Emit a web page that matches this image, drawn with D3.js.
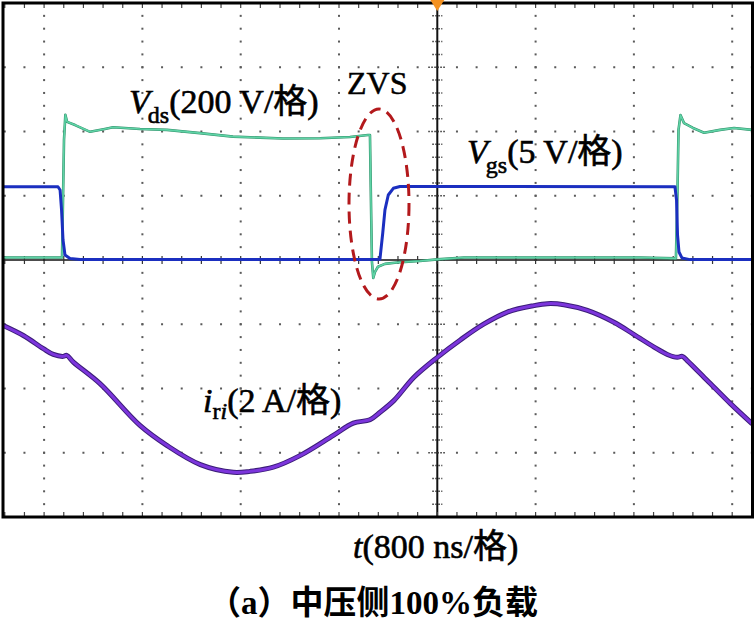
<!DOCTYPE html>
<html>
<head>
<meta charset="utf-8">
<script src="https://cdn.jsdelivr.net/npm/d3@7"></script>
<style>
  html, body { margin: 0; padding: 0; background: #fff; }
  svg { display: block; }
</style>
</head>
<body>
<svg id="chart" width="754" height="622"></svg>
<script>
// ---------------- data ----------------
// time in ns (0 = trigger / centre graticule line), 800 ns per division
const vdsTime = [-3534, -3054, -3038, -3027, -3013, -2948, -2826, -2706, -2639, -2419, -2200, -1931, -1663, -1443, -1256, -955, -711, -564, -548, -540, -532, -521, -507, -483, -426, -328, -141, 0, 217, 1649, 1942, 1955, 1963, 1979, 2008, 2081, 2171, 2301, 2415, 2561];
const vdsValue = [8, 8, 374, 452, 430, 420, 399, 408, 413, 408, 405, 395, 384, 381, 378, 379, 383, 389, 389, 187, -6, -56, -37, -21, -12, -8, -3, 2, 8, 8, 5, 218, 405, 451, 426, 411, 396, 405, 411, 405]; // V, 200 V/div

const vgsTime = [-3534, -3087, -3070, -3058, -3046, -3030, -2989, -2908, -548, -467, -444, -426, -399, -358, -304, 1934, 1947, 1955, 1967, 1991, 2056, 2561];
const vgsValue = [5.7, 5.7, 5.45, 3.9, 1.56, 0.39, 0.12, 0.03, 0.03, 0.05, 2.1, 3.9, 5.06, 5.58, 5.72, 5.7, 4.67, 1.95, 0.62, 0.16, 0.03, 0.03]; // V, 5 V/div

const iriTime = [-3532, -3369, -3206, -3125, -3044, -3016, -2962, -2745, -2420, -2202, -1928, -1660, -1524, -1335, -1118, -846, -684, -548, -466, -352, -190, 0, 190, 380, 570, 787, 895, 1031, 1221, 1438, 1601, 1764, 1872, 1953, 1994, 2034, 2197, 2388, 2563];
const iriValue = [1.96, 1.65, 1.24, 1.06, 1.00, 1.03, 0.82, 0.15, -1.15, -1.77, -2.37, -2.61, -2.58, -2.45, -2.09, -1.46, -1.08, -0.97, -0.74, -0.37, 0.35, 0.97, 1.52, 2.01, 2.38, 2.58, 2.64, 2.61, 2.43, 2.06, 1.68, 1.29, 1.06, 0.97, 1.00, 0.87, 0.25, -0.48, -1.10]; // A, 2 A/div

// channel scale (units per division) and offset (divisions)
const channelScale = { vds: 200, vgs: 5, iri: 2 };
const channelOffset = { vds: 0, vgs: 0, iri: -2 };

// labels
const labelVds = ["V", "ds", "(200 V/格)"];
const labelVgs = ["V", "gs", "(5 V/格)"];
const labelIri = ["i", "r", "i", "(2 A/格)"];
const labelZvs = "ZVS";
const labelTime = ["t", "(800 ns/格)"];
const caption = "（a）中压侧100%负载";

// ---------------- layout ----------------
const svg = d3.select("#chart");
const pLeft = 3, pRight = 752.5, pTop = 3, pBottom = 517;
const divPx = 98.3, centreX = 437.3;

const x = d3.scaleLinear()
  .domain([(pLeft - centreX) / divPx * 800, (pRight - centreX) / divPx * 800])
  .range([pLeft, pRight]);
const y = d3.scaleLinear().domain([-4, 4]).range([pBottom, pTop]);

const g = svg.append("g");

// graticule dots
const majorX = d3.range(-4, 4).map(k => k * 800).filter(t => t !== 0 && t >= x.domain()[0] && t <= x.domain()[1]);
const minorX = d3.range(-25, 20).map(k => k * 160).filter(t => t > x.domain()[0] && t < x.domain()[1]);
const majorY = [-3, -2, -1, 1, 2, 3];
const minorIdx = d3.range(-19, 20);
const minorY = minorIdx.map(k => k / 5);

const dots = [];
majorX.forEach(t => minorY.forEach(v => dots.push([x(t), y(v)])));
majorY.forEach(v => minorX.forEach(t => dots.push([x(t), y(v)])));
g.append("g").selectAll("rect").data(dots).join("rect")
  .attr("x", d => d[0] - 1).attr("y", d => d[1] - 1)
  .attr("width", 2).attr("height", 2).attr("fill", "#5a5a5a");

// centre axes with ticks
g.append("line").attr("x1", x(0)).attr("x2", x(0)).attr("y1", pTop).attr("y2", pBottom)
  .attr("stroke", "#111").attr("stroke-width", 2);
g.append("line").attr("x1", pLeft).attr("x2", pRight).attr("y1", y(0)).attr("y2", y(0))
  .attr("stroke", "#111").attr("stroke-width", 1.5);
g.append("g").selectAll("line").data(minorIdx).join("line")
  .attr("x1", k => x(0) - (k % 5 === 0 ? 9 : 5))
  .attr("x2", k => x(0) + (k % 5 === 0 ? 9 : 5))
  .attr("y1", k => y(k / 5)).attr("y2", k => y(k / 5))
  .attr("stroke", "#333").attr("stroke-width", 1.5).attr("stroke-dasharray", "1.5,1.5");
g.append("g").selectAll("line").data(minorX).join("line")
  .attr("x1", d => x(d)).attr("x2", d => x(d))
  .attr("y1", y(0) - 4).attr("y2", y(0) + 4)
  .attr("stroke", "#333").attr("stroke-width", 1.2);
// border ticks (top / bottom)
g.append("g").selectAll("line").data(minorX).join("line")
  .attr("x1", d => x(d)).attr("x2", d => x(d))
  .attr("y1", pTop).attr("y2", pTop + 5)
  .attr("stroke", "#444").attr("stroke-width", 1.2);
g.append("g").selectAll("line").data(minorX).join("line")
  .attr("x1", d => x(d)).attr("x2", d => x(d))
  .attr("y1", pBottom - 5).attr("y2", pBottom)
  .attr("stroke", "#444").attr("stroke-width", 1.2);

// traces
function series(times, values, ch) {
  return times.map((t, i) => [t, values[i] / channelScale[ch] + channelOffset[ch]]);
}
const lineLin = d3.line().x(d => x(d[0])).y(d => y(d[1]));
const lineSmooth = d3.line().x(d => x(d[0])).y(d => y(d[1])).curve(d3.curveCatmullRom.alpha(0.5));

const iriData = series(iriTime, iriValue, "iri");
g.append("path").attr("d", lineSmooth(iriData)).attr("fill", "none")
  .attr("stroke", "#3b1d78").attr("stroke-width", 5).attr("stroke-linejoin", "round");
g.append("path").attr("d", lineSmooth(iriData)).attr("fill", "none")
  .attr("stroke", "#7c35dc").attr("stroke-width", 3).attr("stroke-linejoin", "round");

const vdsData = series(vdsTime, vdsValue, "vds");
g.append("path").attr("d", lineLin(vdsData)).attr("fill", "none")
  .attr("stroke", "#2f8f69").attr("stroke-width", 2.6).attr("stroke-linejoin", "round");
g.append("path").attr("d", lineLin(vdsData)).attr("fill", "none")
  .attr("stroke", "#5fd3a6").attr("stroke-width", 1.6).attr("stroke-linejoin", "round");

const vgsData = series(vgsTime, vgsValue, "vgs");
g.append("path").attr("d", lineLin(vgsData)).attr("fill", "none")
  .attr("stroke", "#1b2fc0").attr("stroke-width", 3).attr("stroke-linejoin", "round");

// ZVS ellipse
g.append("ellipse").attr("cx", 379).attr("cy", 204).attr("rx", 30).attr("ry", 95)
  .attr("fill", "none").attr("stroke", "#b3191c").attr("stroke-width", 3)
  .attr("stroke-dasharray", "12,7");

// frame
g.append("rect").attr("x", pLeft).attr("y", pTop).attr("width", pRight - pLeft).attr("height", pBottom - pTop)
  .attr("fill", "none").attr("stroke", "#000").attr("stroke-width", 3);

// trigger marker
g.append("path").attr("d", "M-7,0 L7,0 L0,11 Z")
  .attr("transform", `translate(${x(0)},0)`).attr("fill", "#f39121");

// ---------------- text ----------------
const serif = "'Liberation Serif','Times New Roman','Noto Sans CJK SC',serif";

function subLabel(xp, yp, parts) {
  const t = svg.append("text").attr("x", xp).attr("y", yp)
    .attr("font-family", serif).attr("font-size", 34).attr("fill", "#000")
    .attr("stroke", "#000").attr("stroke-width", 0.6);
  parts.forEach(p => {
    const s = t.append("tspan").text(p.text);
    if (p.italic) s.attr("font-style", "italic");
    if (p.sub) s.attr("font-size", 24);
    if (p.dy) s.attr("dy", p.dy);
    if (p.dx) s.attr("dx", p.dx);
  });
  return t;
}

subLabel(129, 113, [
  { text: labelVds[0], italic: true },
  { text: labelVds[1], sub: true, dy: 10, dx: -2 },
  { text: labelVds[2], dy: -10 }
]);
subLabel(467, 163, [
  { text: labelVgs[0], italic: true },
  { text: labelVgs[1], sub: true, dy: 10, dx: -2 },
  { text: labelVgs[2], dy: -10 }
]);
subLabel(203, 412, [
  { text: labelIri[0], italic: true },
  { text: labelIri[1], sub: true, dy: 7 },
  { text: labelIri[2], sub: true, italic: true },
  { text: labelIri[3], dy: -7 }
]);
subLabel(353, 558, [
  { text: labelTime[0], italic: true },
  { text: labelTime[1] }
]);

svg.append("text").attr("x", 347).attr("y", 94)
  .attr("font-family", serif).attr("font-size", 32)
  .attr("stroke", "#000").attr("stroke-width", 0.5).text(labelZvs);

svg.append("text").attr("x", 208).attr("y", 614)
  .attr("font-family", serif).attr("font-size", 33).attr("font-weight", "bold").text(caption);
</script>
</body>
</html>
